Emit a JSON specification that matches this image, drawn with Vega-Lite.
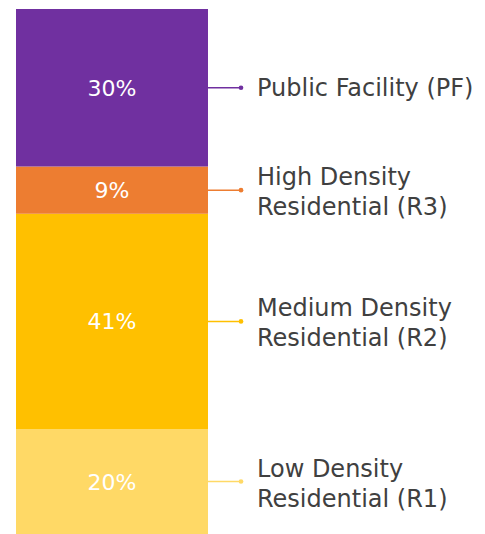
{
  "$schema": "https://vega.github.io/schema/vega-lite/v6.json",
  "width": 469,
  "height": 525,
  "autosize": "none",
  "padding": {"left": 16, "top": 9, "right": 0, "bottom": 0},
  "background": "white",
  "config": {"view": {"stroke": null}},
  "data": {"values": [
    {"category": "Low Density Residential (R1)", "label": "Low Density\nResidential (R1)", "share": 0.20, "rank": 1},
    {"category": "Medium Density Residential (R2)", "label": "Medium Density\nResidential (R2)", "share": 0.41, "rank": 2},
    {"category": "High Density Residential (R3)", "label": "High Density\nResidential (R3)", "share": 0.09, "rank": 3},
    {"category": "Public Facility (PF)", "label": "Public Facility (PF)", "share": 0.30, "rank": 4}
  ]},
  "transform": [
    {"stack": "share", "groupby": [], "sort": [{"field": "rank", "order": "ascending"}], "as": ["y0", "y1"]},
    {"calculate": "(datum.y0 + datum.y1) / 2", "as": "ymid"}
  ],
  "encoding": {
    "x": {"datum": "Land use", "type": "nominal", "scale": {"paddingInner": 0, "paddingOuter": 0.7214, "align": 0}, "axis": null},
    "color": {"field": "category", "type": "nominal", "legend": null,
      "scale": {"domain": ["Low Density Residential (R1)", "Medium Density Residential (R2)", "High Density Residential (R3)", "Public Facility (PF)"],
                "range": ["#FFD966", "#FFC000", "#ED7D31", "#7030A0"]}}
  },
  "layer": [
    {
      "mark": {"type": "bar"},
      "encoding": {
        "y": {"field": "y0", "type": "quantitative", "scale": {"domain": [0, 1], "nice": false, "zero": false}, "axis": null},
        "y2": {"field": "y1"}
      }
    },
    {
      "mark": {"type": "text", "fontSize": 22, "font": "DejaVu Sans", "baseline": "middle", "align": "center", "dy": 1},
      "encoding": {
        "y": {"field": "ymid", "type": "quantitative"},
        "text": {"field": "share", "type": "quantitative", "format": ".0%"},
        "color": {"value": "white"}
      }
    },
    {
      "mark": {"type": "rule", "xOffset": 96, "x2Offset": 129, "strokeWidth": 1.5},
      "encoding": {
        "x2": {"datum": "Land use"},
        "y": {"field": "ymid", "type": "quantitative"}
      }
    },
    {
      "mark": {"type": "circle", "xOffset": 129, "size": 22, "opacity": 1},
      "encoding": {
        "y": {"field": "ymid", "type": "quantitative"}
      }
    },
    {
      "transform": [{"filter": "datum.rank == 4"}],
      "mark": {"type": "text", "xOffset": 145, "align": "left", "baseline": "middle", "fontSize": 24, "font": "DejaVu Sans", "dy": 1},
      "encoding": {
        "y": {"field": "ymid", "type": "quantitative"},
        "text": {"field": "label"},
        "color": {"value": "#404040"}
      }
    },
    {
      "transform": [{"filter": "datum.rank != 4"}],
      "mark": {"type": "text", "xOffset": 145, "align": "left", "baseline": "middle", "fontSize": 24, "font": "DejaVu Sans", "lineBreak": "\n", "lineHeight": 30, "dy": -12},
      "encoding": {
        "y": {"field": "ymid", "type": "quantitative"},
        "text": {"field": "label"},
        "color": {"value": "#404040"}
      }
    }
  ]
}
